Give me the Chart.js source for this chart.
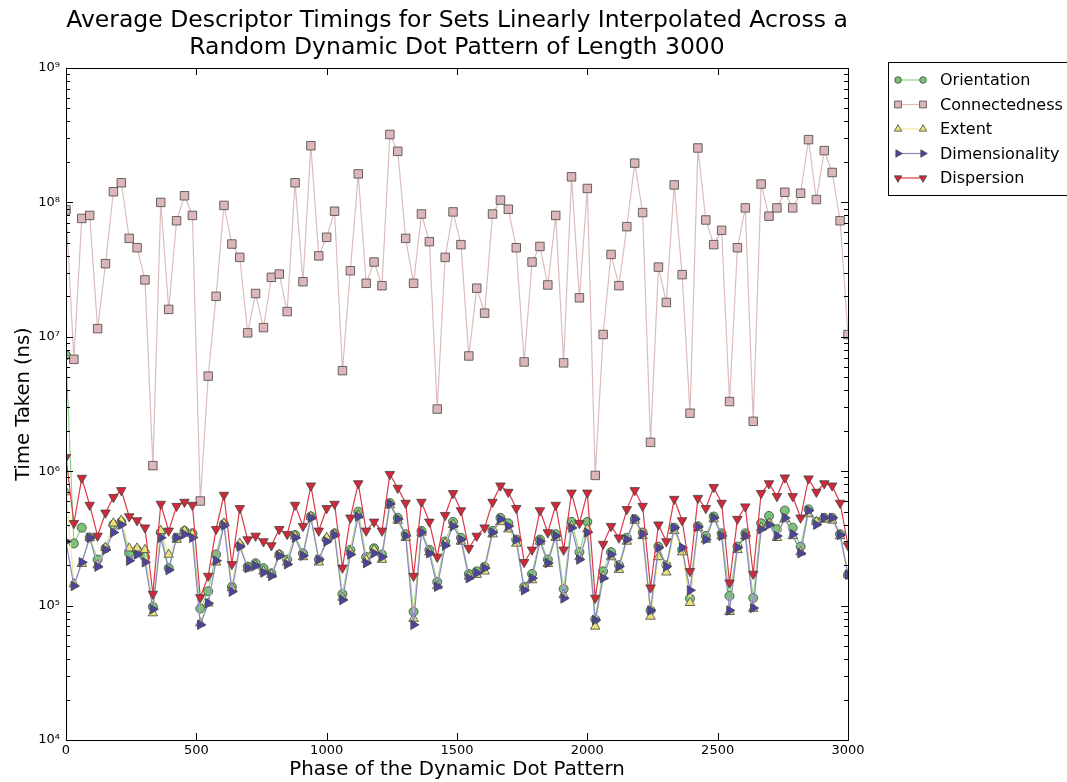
<!DOCTYPE html>
<html>
<head>
<meta charset="utf-8">
<script src="https://cdn.jsdelivr.net/npm/chart.js@4/dist/chart.umd.min.js"></script>
<style>
  html, body { margin: 0; padding: 0; background: #fff; }
  #wrap { width: 1067px; height: 782px; }
</style>
</head>
<body>
<div id="wrap"><canvas id="timings-chart" width="1067" height="782"></canvas></div>
<script>
// Phase values: 100 samples spread evenly over 0..3000
const phaseCount = 100;
const phaseMax = 3000;

const seriesNames = ["Orientation", "Connectedness", "Extent", "Dimensionality", "Dispersion"];

const orientation = [
  7.3e6, 2.9e5, 3.8e5, 3.2e5, 2.2e5, 2.67e5, 4.0e5, 4.2e5, 2.45e5, 2.6e5,
  2.3e5, 9.8e4, 3.5e5, 1.9e5, 3.2e5, 3.6e5, 3.45e5, 9.5e4, 1.28e5, 2.4e5,
  4.05e5, 1.38e5, 2.8e5, 1.95e5, 2.07e5, 1.9e5, 1.74e5, 2.4e5, 2.2e5, 3.35e5,
  2.45e5, 4.6e5, 2.2e5, 3.1e5, 3.45e5, 1.22e5, 2.6e5, 5.0e5, 2.3e5, 2.67e5,
  2.4e5, 5.8e5, 4.5e5, 3.4e5, 9.0e4, 3.6e5, 2.6e5, 1.5e5, 3.0e5, 4.2e5,
  3.2e5, 1.72e5, 1.8e5, 1.95e5, 3.6e5, 4.5e5, 4.1e5, 3.1e5, 1.38e5, 1.72e5,
  3.1e5, 2.2e5, 3.4e5, 1.33e5, 4.2e5, 2.5e5, 4.2e5, 7.9e4, 1.8e5, 2.5e5,
  2.0e5, 3.2e5, 4.4e5, 3.5e5, 9.2e4, 2.75e5, 2.0e5, 3.8e5, 2.6e5, 1.13e5,
  3.9e5, 3.3e5, 4.6e5, 3.45e5, 1.18e5, 2.75e5, 3.45e5, 1.14e5, 4.1e5, 4.65e5,
  3.7e5, 5.1e5, 3.8e5, 2.75e5, 5.2e5, 4.2e5, 4.5e5, 4.5e5, 3.4e5, 1.7e5,
];

const connectedness = [
  8.8e7, 6.8e6, 7.6e7, 8.0e7, 1.15e7, 3.5e7, 1.2e8, 1.4e8, 5.4e7, 4.6e7,
  2.65e7, 1.1e6, 1.0e8, 1.6e7, 7.3e7, 1.12e8, 8.0e7, 6.0e5, 5.1e6, 2.0e7,
  9.5e7, 4.9e7, 3.9e7, 1.07e7, 2.1e7, 1.17e7, 2.77e7, 2.93e7, 1.54e7, 1.4e8,
  2.57e7, 2.64e8, 4.0e7, 5.5e7, 8.6e7, 5.6e6, 3.1e7, 1.63e8, 2.5e7, 3.6e7,
  2.4e7, 3.2e8, 2.4e8, 5.4e7, 2.5e7, 8.2e7, 5.1e7, 2.9e6, 3.9e7, 8.5e7,
  4.85e7, 7.2e6, 2.3e7, 1.5e7, 8.2e7, 1.04e8, 8.9e7, 4.6e7, 6.5e6, 3.6e7,
  4.7e7, 2.43e7, 8.0e7, 6.4e6, 1.55e8, 1.95e7, 1.27e8, 9.3e5, 1.04e7, 4.1e7,
  2.4e7, 6.6e7, 1.96e8, 8.4e7, 1.64e6, 3.3e7, 1.8e7, 1.35e8, 2.9e7, 2.7e6,
  2.54e8, 7.4e7, 4.85e7, 6.2e7, 3.3e6, 4.6e7, 9.1e7, 2.35e6, 1.37e8, 7.9e7,
  9.1e7, 1.19e8, 9.1e7, 1.17e8, 2.93e8, 1.05e8, 2.43e8, 1.67e8, 7.3e7, 1.04e7,
];

const extent = [
  7.0e5, 1.45e5, 2.05e5, 3.2e5, 2.0e5, 2.7e5, 4.1e5, 4.3e5, 2.67e5, 2.67e5,
  2.6e5, 8.8e4, 3.6e5, 2.4e5, 3.1e5, 3.6e5, 3.4e5, 7.4e4, 1.04e5, 2.1e5,
  4.1e5, 1.35e5, 2.9e5, 1.9e5, 2.0e5, 1.8e5, 1.7e5, 2.4e5, 2.1e5, 3.3e5,
  2.3e5, 4.6e5, 2.1e5, 3.2e5, 3.4e5, 1.15e5, 2.5e5, 4.7e5, 2.2e5, 2.6e5,
  2.2e5, 5.6e5, 4.3e5, 3.2e5, 8.0e4, 3.5e5, 2.5e5, 1.4e5, 2.9e5, 4.0e5,
  3.0e5, 1.65e5, 1.7e5, 1.8e5, 3.4e5, 4.2e5, 3.7e5, 2.9e5, 1.35e5, 1.55e5,
  3.0e5, 2.05e5, 3.2e5, 1.2e5, 3.9e5, 2.3e5, 3.7e5, 7.0e4, 1.65e5, 2.3e5,
  1.85e5, 3.0e5, 4.3e5, 3.3e5, 8.3e4, 2.3e5, 1.77e5, 3.6e5, 2.5e5, 1.05e5,
  3.8e5, 3.1e5, 4.4e5, 3.3e5, 9.0e4, 2.6e5, 3.3e5, 9.5e4, 3.8e5, 4.1e5,
  3.2e5, 4.4e5, 3.3e5, 2.5e5, 4.8e5, 4.2e5, 4.4e5, 4.3e5, 3.3e5, 1.7e5,
];

const dimensionality = [
  3.0e5, 1.4e5, 2.1e5, 3.2e5, 1.95e5, 2.6e5, 3.5e5, 4.0e5, 2.16e5, 2.4e5,
  2.1e5, 9.4e4, 3.2e5, 1.84e5, 3.2e5, 3.4e5, 3.2e5, 7.2e4, 1.04e5, 2.16e5,
  3.95e5, 1.27e5, 2.75e5, 1.9e5, 1.98e5, 1.76e5, 1.66e5, 2.35e5, 2.03e5, 3.2e5,
  2.35e5, 4.5e5, 2.2e5, 3.0e5, 3.35e5, 1.1e5, 2.4e5, 4.6e5, 2.07e5, 2.45e5,
  2.3e5, 5.7e5, 4.4e5, 3.3e5, 7.2e4, 3.5e5, 2.45e5, 1.38e5, 2.8e5, 3.9e5,
  3.1e5, 1.6e5, 1.75e5, 1.9e5, 3.5e5, 4.4e5, 3.9e5, 3.1e5, 1.3e5, 1.6e5,
  3.0e5, 2.07e5, 3.3e5, 1.13e5, 3.8e5, 2.2e5, 3.5e5, 7.8e4, 1.6e5, 2.4e5,
  1.95e5, 3.1e5, 4.4e5, 3.4e5, 9.2e4, 2.7e5, 1.95e5, 3.8e5, 2.7e5, 1.3e5,
  3.85e5, 3.1e5, 4.5e5, 3.3e5, 9.2e4, 2.7e5, 3.3e5, 9.6e4, 3.7e5, 4.0e5,
  3.3e5, 4.5e5, 3.4e5, 2.45e5, 5.1e5, 4.0e5, 4.5e5, 4.5e5, 3.35e5, 1.7e5,
];

const dispersion = [
  1.27e6, 4.1e5, 8.9e5, 5.6e5, 3.3e5, 4.9e5, 6.4e5, 7.2e5, 4.6e5, 4.3e5,
  3.8e5, 1.22e5, 5.7e5, 3.6e5, 5.5e5, 5.9e5, 5.6e5, 1.15e5, 1.66e5, 3.7e5,
  6.65e5, 2.03e5, 5.3e5, 3.1e5, 3.3e5, 3.0e5, 2.8e5, 3.7e5, 3.4e5, 5.6e5,
  3.9e5, 7.8e5, 3.6e5, 5.3e5, 5.7e5, 1.91e5, 4.5e5, 8.1e5, 3.6e5, 4.2e5,
  3.6e5, 9.5e5, 7.5e5, 5.8e5, 1.66e5, 5.9e5, 4.2e5, 2.3e5, 4.7e5, 6.85e5,
  5.1e5, 2.67e5, 3.3e5, 3.8e5, 5.9e5, 7.8e5, 7.0e5, 5.3e5, 2.1e5, 2.6e5,
  5.1e5, 3.5e5, 5.6e5, 2.6e5, 6.9e5, 4.1e5, 6.9e5, 1.14e5, 2.87e5, 3.9e5,
  3.2e5, 5.2e5, 7.2e5, 5.5e5, 1.36e5, 4.0e5, 3.0e5, 6.2e5, 4.3e5, 1.8e5,
  6.3e5, 5.3e5, 7.6e5, 5.8e5, 1.48e5, 4.4e5, 5.45e5, 1.72e5, 6.85e5, 8.1e5,
  6.5e5, 8.95e5, 6.5e5, 4.5e5, 8.8e5, 7.0e5, 8.1e5, 7.8e5, 5.8e5, 2.8e5,
];

const xTicks = [0, 500, 1000, 1500, 2000, 2500, 3000];
const yDecades = [1e4, 1e5, 1e6, 1e7, 1e8, 1e9];

const titleLines = [
  "Average Descriptor Timings for Sets Linearly Interpolated Across a",
  "Random Dynamic Dot Pattern of Length 3000",
];

// x positions of the samples
const phases = [];
for (let i = 0; i < phaseCount; i++) {
  phases.push((i * phaseMax) / (phaseCount - 1));
}

function toPoints(values) {
  return values.map((v, i) => ({ x: phases[i], y: v }));
}

const FONT = "'DejaVu Sans', 'Liberation Sans', sans-serif";
const SUP = { "0": "\u2070", "1": "\u00b9", "2": "\u00b2", "3": "\u00b3", "4": "\u2074", "5": "\u2075", "6": "\u2076", "7": "\u2077", "8": "\u2078", "9": "\u2079" };

function isDecade(v) {
  const e = Math.log10(v);
  return Math.abs(e - Math.round(e)) < 1e-9;
}

// Styles per series
const styles = [
  { fill: "#78c378", line: "#8fd48f", shape: "circle", radius: 4.5, rot: 0 },
  { fill: "#dcb6b8", line: "#dcbcbc", shape: "rect", radius: 6, rot: 0 },
  { fill: "#ece27a", line: "#f2ea98", shape: "triangle", radius: 5.5, rot: 0 },
  { fill: "#4c44a0", line: "#8888c4", shape: "triangle", radius: 5.5, rot: 90 },
  { fill: "#d2283a", line: "#dc3848", shape: "triangle", radius: 5.5, rot: 180 },
];

const seriesData = [orientation, connectedness, extent, dimensionality, dispersion];

const datasets = seriesNames.map((name, i) => ({
  label: name,
  data: toPoints(seriesData[i]),
  borderColor: styles[i].line,
  borderWidth: 1.2,
  backgroundColor: styles[i].fill,
  pointBackgroundColor: styles[i].fill,
  pointBorderColor: "#444444",
  pointBorderWidth: 0.8,
  pointStyle: styles[i].shape,
  pointRadius: styles[i].radius,
  pointRotation: styles[i].rot,
  tension: 0,
  order: 5 - i,
}));

// Frame, inward ticks, title and legend
const decorations = {
  id: "decorations",
  afterDatasetsDraw(chart) {
    const { ctx, chartArea: a, scales } = chart;
    const xs = scales.x;
    const ys = scales.y;
    ctx.save();
    ctx.strokeStyle = "#000";
    ctx.lineWidth = 1;

    // inward ticks
    ctx.beginPath();
    xTicks.forEach((t) => {
      const px = Math.round(xs.getPixelForValue(t)) + 0.5;
      ctx.moveTo(px, a.bottom);
      ctx.lineTo(px, a.bottom - 7);
      ctx.moveTo(px, a.top);
      ctx.lineTo(px, a.top + 7);
    });
    for (let d = 1e4; d <= 1e9; d *= 10) {
      for (let m = 1; m <= 9; m++) {
        const v = d * m;
        if (v > 1e9 * 1.0001) break;
        const py = Math.round(ys.getPixelForValue(v)) + 0.5;
        const len = m === 1 ? 7 : 4;
        ctx.moveTo(a.left, py);
        ctx.lineTo(a.left + len, py);
        ctx.moveTo(a.right, py);
        ctx.lineTo(a.right - len, py);
      }
    }
    ctx.stroke();

    // frame
    ctx.strokeRect(Math.round(a.left) + 0.5, Math.round(a.top) + 0.5,
      Math.round(a.right - a.left), Math.round(a.bottom - a.top));

    // title
    ctx.fillStyle = "#000";
    ctx.font = "23.5px " + FONT;
    ctx.textAlign = "center";
    ctx.textBaseline = "middle";
    const cx = (a.left + a.right) / 2;
    ctx.fillText(titleLines[0], cx, 21);
    ctx.fillText(titleLines[1], cx, 48);

    // legend
    const lx = 888, ly = 62, lw = 190, lh = 133;
    ctx.fillStyle = "#fff";
    ctx.fillRect(lx, ly, lw, lh);
    ctx.strokeStyle = "#000";
    ctx.strokeRect(lx + 0.5, ly + 0.5, lw, lh);
    ctx.font = "16px " + FONT;
    ctx.textAlign = "left";
    seriesNames.forEach((name, i) => {
      const y = 80 + i * 24.5;
      const s = styles[i];
      ctx.strokeStyle = s.line;
      ctx.lineWidth = 1.2;
      ctx.beginPath();
      ctx.moveTo(898, y);
      ctx.lineTo(923, y);
      ctx.stroke();
      ctx.fillStyle = s.fill;
      ctx.strokeStyle = "#444";
      ctx.lineWidth = 0.8;
      [898, 923].forEach((px) => {
        Chart.helpers.drawPoint(ctx, { pointStyle: s.shape, radius: s.radius - 1.2, rotation: s.rot, borderWidth: 0.8 }, px, y);
      });
      ctx.fillStyle = "#000";
      ctx.fillText(name, 940, y + 1);
    });
    ctx.restore();
  },
};

const ctx = document.getElementById("timings-chart").getContext("2d");

new Chart(ctx, {
  type: "line",
  data: { datasets: datasets },
  options: {
    responsive: false,
    animation: false,
    devicePixelRatio: 1,
    layout: { padding: { top: 68, right: 219, left: 0, bottom: 0 } },
    plugins: {
      legend: { display: false },
      title: { display: false },
      tooltip: { enabled: false },
    },
    scales: {
      x: {
        type: "linear",
        min: 0,
        max: phaseMax,
        afterBuildTicks: (scale) => {
          scale.ticks = xTicks.map((v) => ({ value: v }));
        },
        afterFit: (scale) => {
          scale.height = 42;
        },
        grid: { display: false, drawTicks: false },
        border: { display: false },
        ticks: {
          color: "#000",
          font: { family: FONT, size: 13 },
          padding: 3,
          maxRotation: 0,
          autoSkip: false,
          callback: (v) => String(v),
        },
        title: {
          display: true,
          text: "Phase of the Dynamic Dot Pattern",
          color: "#000",
          font: { family: FONT, size: 19.8 },
          padding: { top: 0, bottom: 0 },
        },
      },
      y: {
        type: "logarithmic",
        min: 1e4,
        max: 1e9,
        afterBuildTicks: (scale) => {
          scale.ticks = yDecades.map((v) => ({ value: v, major: true }));
        },
        afterFit: (scale) => {
          scale.width = 66;
        },
        grid: { display: false, drawTicks: false },
        border: { display: false },
        ticks: {
          color: "#000",
          font: { family: FONT, size: 13 },
          padding: 6,
          autoSkip: false,
          callback: (v) => {
            if (!isDecade(v)) return "";
            const e = String(Math.round(Math.log10(v)));
            return "10" + e.split("").map((c) => SUP[c]).join("");
          },
        },
        title: {
          display: true,
          text: "Time Taken (ns)",
          color: "#000",
          font: { family: FONT, size: 19.5 },
          padding: { top: 12, bottom: 0 },
        },
      },
    },
  },
  plugins: [decorations],
});
</script>
</body>
</html>
